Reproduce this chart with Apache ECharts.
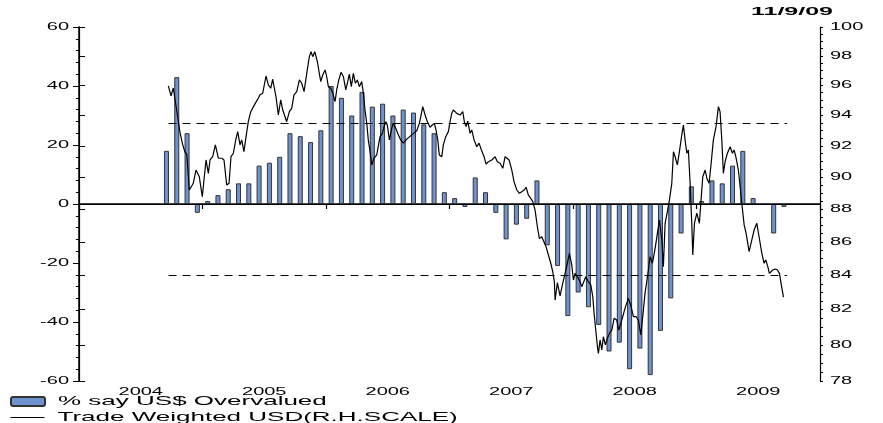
<!DOCTYPE html>
<html>
<head>
<meta charset="utf-8">
<title>US$ sentiment vs trade weighted USD</title>
<script src="https://cdn.jsdelivr.net/npm/echarts@6/dist/echarts.min.js"></script>
<style>
  html, body { margin: 0; padding: 0; background: #fff; }
  #chart { width: 883px; height: 423px; }
</style>
</head>
<body>
<div id="chart"></div>
<script>
// Year labels along the bottom axis (one per 12-month block starting Jan 2004)
const years = ['2004', '2005', '2006', '2007', '2008', '2009'];

// Monthly survey: % saying US$ is overvalued, Sep 2004 .. Sep 2009
const firstBarMonth = 8; // months after Jan 2004
const overvalued = [
  18, 43, 24, -3, 1, 3, 5, 7, 7, 13, 14, 16, 24, 23, 21, 25,
  40, 36, 30, 38, 33, 34, 30, 32, 31, 27, 24, 4,
  2, -1, 9, 4, -3, -12, -7, -5, 8, -14, -21, -38,
  -30, -35, -41, -50, -47, -56, -49, -58, -43, -32, -10, 6,
  1, 8, 7, 13, 18, 2, 0, -10, -1
];

// Trade weighted USD index: position in months after Jan 2004, and level
const usdPos = [
  8.68, 8.94, 9.16, 9.49, 9.82, 10.08, 10.30, 10.47, 10.72, 10.95,
  11.11, 11.37, 11.69, 11.98, 12.34, 12.57, 12.73, 12.99, 13.25, 13.54,
  13.87, 14.09, 14.35, 14.58, 14.77, 15.00, 15.23, 15.42, 15.65, 15.81,
  16.03, 16.23, 16.45, 16.69, 17.04, 17.37, 17.59, 17.85, 18.17, 18.40,
  18.63, 18.82, 19.14, 19.37, 19.60, 19.80, 20.18,
  20.44, 20.67, 20.89, 21.16, 21.41, 21.64, 21.87, 22.13, 22.38, 22.55,
  22.71, 22.91, 23.16, 23.35, 23.49, 23.68, 23.91, 24.07, 24.23, 24.46,
  24.66, 24.88, 25.04, 25.24, 25.46, 25.69, 25.92, 26.11, 26.27, 26.46,
  26.66, 26.85, 27.05, 27.24, 27.47, 27.63, 27.79, 27.96, 28.11, 28.28,
  28.45, 28.67, 28.93, 29.25, 29.48, 29.64, 29.81, 29.96, 30.16, 30.39,
  30.54, 30.78, 31.03, 31.26,
  31.52, 31.85, 32.33, 32.82, 33.07, 33.21, 33.40, 33.63, 33.85, 34.11,
  34.33, 34.53, 34.69, 34.86, 35.01, 35.25, 35.40, 35.64, 35.89, 36.05,
  36.22, 36.38, 36.71, 37.03, 37.29, 37.44, 37.61, 37.77, 38.00, 38.16,
  38.39, 38.65, 38.87, 39.10, 39.36, 39.55, 39.78, 40.11, 40.43, 40.65,
  40.91, 41.18, 41.40, 41.56, 41.79, 42.05, 42.27, 42.54, 42.79, 43.02,
  43.25,
  43.44, 43.66, 43.90, 44.09, 44.31, 44.54, 44.73, 44.97, 45.12, 45.38,
  45.61, 45.84, 46.03, 46.19, 46.26, 46.48, 46.74, 46.97, 47.23, 47.45,
  47.65, 47.88, 48.04, 48.20, 48.43, 48.69, 48.85, 49.01, 49.24, 49.49,
  49.73, 49.92, 50.05, 50.21, 50.37, 50.47, 50.63, 50.80, 50.95, 51.15,
  51.34, 51.54, 51.77, 51.99, 52.25, 52.45, 52.74, 53.06, 53.38, 53.61,
  53.87, 54.13, 54.35, 54.59,
  54.84, 55.00, 55.33, 55.49, 55.72, 55.98, 56.20, 56.40, 56.63, 56.78,
  56.95, 57.17, 57.37, 57.60, 57.76, 57.92, 58.14, 58.34, 58.57, 58.73,
  58.89, 59.06, 59.21, 59.38, 59.54, 59.64, 59.80, 60.03, 60.28, 60.42,
  60.61, 60.84, 61.00, 61.22, 61.39, 61.64, 61.90, 62.13, 62.29, 62.46,
  62.61, 62.78, 63.00, 63.27, 63.49, 63.65, 63.82, 64.07, 64.24, 64.40,
  64.63, 64.82, 65.11, 65.37, 65.60, 65.86, 66.08, 66.35, 66.57, 66.73,
  66.93, 67.08, 67.25, 67.41, 67.64, 67.86, 68.06, 68.22, 68.45
];
const usdLevel = [
  95.95, 95.28, 95.81, 94.34, 92.84, 92.06, 91.60, 91.47, 89.19, 89.44,
  89.63, 90.45, 90.02, 88.77, 91.09, 90.24, 91.09, 91.30, 92.06, 91.20,
  91.20, 91.09, 89.50, 89.61, 91.30, 91.52, 92.38, 92.92, 92.06, 92.38,
  91.62, 92.59, 93.57, 94.23, 94.68, 95.06, 95.35, 95.46, 96.62, 96.02,
  95.79, 96.40, 95.23, 94.01, 95.01, 94.34, 93.57,
  94.23, 94.45, 95.35, 95.57, 96.35, 96.13, 95.57, 96.80, 97.94, 98.28,
  97.94, 98.28, 97.59, 96.80, 96.24, 96.69, 97.03, 96.57, 95.90, 95.79,
  95.46, 94.90, 95.68, 96.35, 96.87, 96.57, 95.68, 96.24, 96.74, 95.90,
  96.80, 96.13, 96.35, 95.90, 96.24, 95.46, 94.34, 93.46, 92.38, 91.62,
  90.77, 91.20, 91.41, 92.59, 92.81, 93.25, 93.57, 93.35, 92.38, 93.14,
  93.46, 93.14, 92.71, 92.38,
  92.17, 92.43, 92.71, 92.98, 93.46, 93.90, 94.56, 94.01, 93.57, 93.20,
  93.35, 93.46, 93.03, 92.38, 91.41, 91.30, 92.06, 92.59, 92.92, 93.57,
  94.12, 94.34, 94.12, 94.01, 94.23, 93.57, 93.25, 93.61, 92.81, 93.03,
  92.38, 91.94, 92.17, 91.73, 91.30, 90.83, 90.98, 91.09, 91.30, 90.98,
  90.88, 90.56, 91.30, 91.41, 91.09, 90.45, 89.71, 89.19, 88.98, 89.08,
  89.19,
  89.36, 88.88, 88.67, 88.46, 87.95, 86.92, 86.21, 86.31, 86.21, 85.71,
  85.21, 84.72, 84.22, 83.63, 82.56, 83.57, 82.80, 83.44, 84.12, 84.72,
  85.31, 84.62, 83.73, 84.12, 83.92, 83.63, 83.34, 83.25, 83.92, 83.63,
  83.44, 82.76, 81.80, 80.84, 79.91, 79.53, 80.28, 79.72, 80.46, 80.00,
  80.38, 80.65, 80.84, 81.51, 81.41, 80.84, 81.41, 82.09, 82.66, 82.27,
  81.60, 81.60, 81.41, 80.56,
  81.99, 82.96, 84.32, 85.11, 84.72, 85.61, 86.52, 87.33, 86.11, 84.52,
  87.13, 87.84, 88.57, 89.61, 91.62, 91.30, 90.77, 91.62, 92.71, 93.35,
  92.38, 91.52, 91.73, 89.61, 87.13, 85.21, 87.13, 87.75, 87.13, 88.37,
  90.02, 90.45, 89.93, 89.61, 90.66, 92.38, 93.25, 94.56, 94.23, 92.38,
  90.24, 90.98, 91.52, 91.94, 91.52, 91.73, 91.30, 90.45, 89.40, 88.37,
  87.03, 86.52, 85.41, 86.11, 86.72, 87.13, 86.31, 85.31, 84.72, 84.92,
  84.52, 84.12, 84.22, 84.32, 84.38, 84.32, 84.12, 83.52, 82.73
];

// Reference band for the index (right-hand scale) and its time span
const bandLevels = [93.5, 84];
const bandSpan = [8.7, 68.8];

// Right-hand (log) scale labels
const rightTicks = [78, 80, 82, 84, 86, 88, 90, 92, 94, 96, 98, 100];
const rightMinorTicks = [];
rightTicks.forEach((t, i) => {
  if (i < rightTicks.length - 1) {
    for (let k = 0; k < 4; k++) rightMinorTicks.push(t + k * 0.5);
  } else {
    rightMinorTicks.push(t);
  }
});

// Wide, stretched lettering: widen every glyph run about its anchor point
const TEXT_STRETCH = 2;
['fillText', 'strokeText'].forEach(fn => {
  const orig = CanvasRenderingContext2D.prototype[fn];
  CanvasRenderingContext2D.prototype[fn] = function (text, x, y, maxWidth) {
    this.save();
    this.translate(x, y);
    this.scale(TEXT_STRETCH, 1);
    if (maxWidth === undefined) orig.call(this, text, 0, 0);
    else orig.call(this, text, 0, 0, maxWidth);
    this.restore();
  };
});

const FONT = '"Liberation Sans", Arial, sans-serif';
const BAR_NAME = '% say US$ Overvalued';
const LINE_NAME = 'Trade Weighted USD(R.H.SCALE)';

const chart = echarts.init(document.getElementById('chart'), null, { renderer: 'canvas' });

const rightAxisBase = {
  type: 'log',
  logBase: 10,
  min: 78,
  max: 100,
  position: 'right',
  splitLine: { show: false },
  axisLine: { show: true, lineStyle: { color: '#000', width: 1.2 } }
};

const legendBase = {
  orient: 'horizontal',
  left: 10,
  padding: 0,
  itemWidth: 34,
  itemHeight: 9,
  selectedMode: false,
  lineStyle: { width: 1 },
  textStyle: { fontSize: 13, color: '#000', fontFamily: FONT, padding: [0, 0, 0, 8] }
};

chart.setOption({
  animation: false,
  backgroundColor: '#fff',
  textStyle: { fontFamily: FONT },
  grid: { left: 79, right: 63, top: 27, bottom: 42, containLabel: false },
  graphic: [{
    type: 'text',
    x: 833,
    y: 12,
    scaleX: 1.25,
    style: {
      text: '11/9/09',
      font: 'bold 10px ' + FONT,
      fill: '#000',
      align: 'right',
      verticalAlign: 'middle'
    }
  }],
  legend: [
    Object.assign({}, legendBase, { top: 395, data: [BAR_NAME] }),
    Object.assign({}, legendBase, {
      top: 411,
      data: [{ name: LINE_NAME, itemStyle: { opacity: 0 } }]
    })
  ],
  xAxis: {
    type: 'value',
    min: 0,
    max: 72,
    splitLine: { show: false },
    axisLine: { lineStyle: { color: '#000', width: 1.5 } },
    axisTick: {
      customValues: [0, 12, 24, 36, 48, 60, 72],
      length: 5,
      lineStyle: { color: '#000', width: 1.2 }
    },
    axisLabel: {
      customValues: years.map((y, i) => i * 12 + 6),
      formatter: v => years[Math.round((v - 6) / 12)],
      margin: 6,
      fontSize: 10,
      color: '#000'
    }
  },
  yAxis: [
    {
      type: 'value',
      min: -60,
      max: 60,
      interval: 20,
      position: 'left',
      splitLine: { show: false },
      axisLine: { show: true, onZero: false, lineStyle: { color: '#000', width: 1.5 } },
      axisTick: { show: true, length: 6, lineStyle: { color: '#000' } },
      minorTick: { show: true, splitNumber: 5, length: 3, lineStyle: { color: '#000' } },
      axisLabel: { margin: 10, fontSize: 10, color: '#000' }
    },
    Object.assign({}, rightAxisBase, {
      axisTick: { show: true, customValues: rightTicks, length: 6, lineStyle: { color: '#000' } },
      axisLabel: {
        customValues: rightTicks,
        formatter: v => String(Math.round(v)),
        margin: 10,
        fontSize: 10,
        color: '#000'
      }
    }),
    Object.assign({}, rightAxisBase, {
      axisTick: { show: true, customValues: rightMinorTicks, length: 3, lineStyle: { color: '#000' } },
      axisLabel: { show: false }
    })
  ],
  series: [
    {
      type: 'bar',
      name: BAR_NAME,
      xAxisIndex: 0,
      yAxisIndex: 0,
      barWidth: 5,
      data: overvalued.map((v, i) => [firstBarMonth + i + 0.5, v]),
      itemStyle: { color: '#6f93cf', borderColor: '#333', borderWidth: 1 },
      z: 2,
      markLine: {
        silent: true,
        symbol: 'none',
        label: { show: false },
        lineStyle: { type: 'solid', color: '#000', width: 1 },
        data: [{ yAxis: 0 }]
      }
    },
    {
      type: 'line',
      name: LINE_NAME,
      xAxisIndex: 0,
      yAxisIndex: 1,
      data: usdPos.map((p, i) => [p, usdLevel[i]]),
      symbol: 'none',
      lineStyle: { color: '#000', width: 1.2 },
      itemStyle: { color: '#000' },
      z: 3,
      markLine: {
        silent: true,
        symbol: 'none',
        label: { show: false },
        lineStyle: { type: [8, 6], color: '#000', width: 1 },
        data: bandLevels.map(lv => [
          { coord: [bandSpan[0], lv] },
          { coord: [bandSpan[1], lv] }
        ])
      }
    }
  ]
});
</script>
</body>
</html>
